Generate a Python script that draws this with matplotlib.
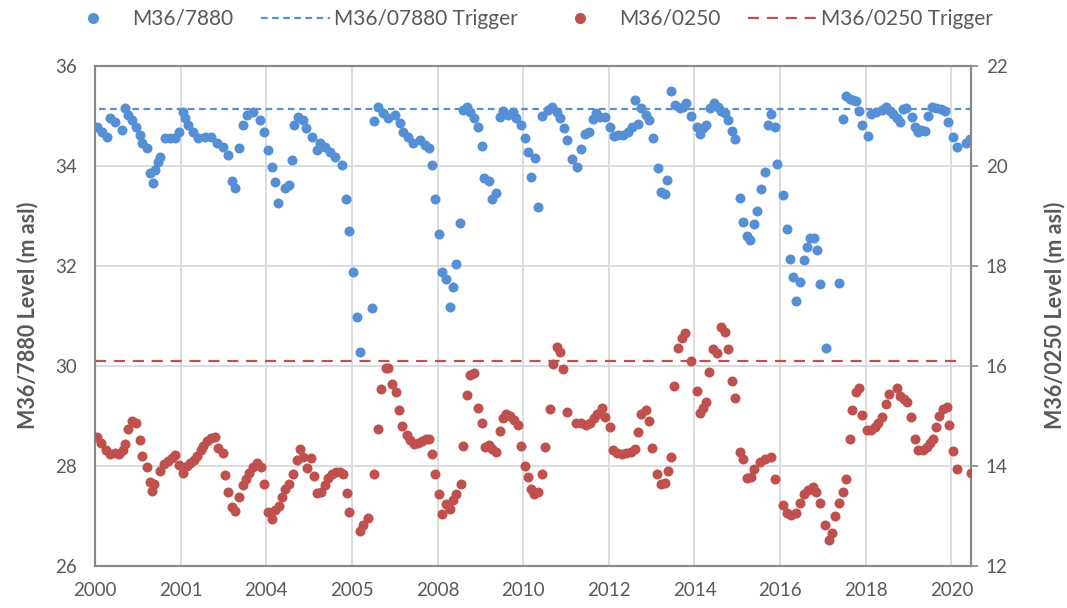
import matplotlib
matplotlib.use("Agg")
import matplotlib.pyplot as plt
from matplotlib.lines import Line2D

plt.rcParams['font.family'] = ['Lato', 'DejaVu Sans']

# M36/7880 water level (m asl), left axis
blue_x = [2000.04, 2000.16, 2000.27, 2000.35, 2000.47, 2000.62, 2000.70, 2000.78, 2000.86, 2000.96,
          2001.05, 2001.11, 2001.21, 2001.28, 2001.36, 2001.40, 2001.48, 2001.53, 2001.63, 2001.75,
          2001.87, 2001.97, 2002.05, 2002.10, 2002.18, 2002.30, 2002.41, 2002.57, 2002.72, 2002.84,
          2002.98, 2003.10, 2003.19, 2003.27, 2003.36, 2003.45, 2003.54, 2003.70, 2003.85, 2003.95,
          2004.05, 2004.13, 2004.20, 2004.28, 2004.44, 2004.53, 2004.61, 2004.65, 2004.75, 2004.86,
          2004.94, 2005.06, 2005.18, 2005.25, 2005.37, 2005.49, 2005.60, 2005.76, 2005.86, 2005.94,
          2006.03, 2006.11, 2006.20, 2006.46, 2006.51, 2006.61, 2006.73, 2006.85, 2007.00, 2007.12,
          2007.20, 2007.32, 2007.43, 2007.59, 2007.70, 2007.80, 2007.88, 2007.94, 2008.03, 2008.11,
          2008.19, 2008.29, 2008.35, 2008.44, 2008.53, 2008.60, 2008.68, 2008.75, 2008.86, 2008.95,
          2009.04, 2009.09, 2009.20, 2009.28, 2009.36, 2009.46, 2009.53, 2009.65, 2009.77, 2009.84,
          2009.95, 2010.05, 2010.12, 2010.19, 2010.27, 2010.34, 2010.44, 2010.57, 2010.68, 2010.78,
          2010.86, 2010.95, 2011.03, 2011.13, 2011.26, 2011.35, 2011.44, 2011.53, 2011.63, 2011.70,
          2011.79, 2011.91, 2012.02, 2012.12, 2012.22, 2012.33, 2012.45, 2012.54, 2012.67, 2012.61,
          2012.76, 2012.86, 2012.93, 2013.04, 2013.14, 2013.21, 2013.31, 2013.37, 2013.45, 2013.54,
          2013.66, 2013.74, 2013.80, 2013.93, 2014.05, 2014.13, 2014.19, 2014.28, 2014.37, 2014.45,
          2014.55, 2014.63, 2014.72, 2014.79, 2014.87, 2014.94, 2015.07, 2015.14, 2015.23, 2015.30,
          2015.39, 2015.46, 2015.56, 2015.64, 2015.71, 2015.78, 2015.88, 2015.93, 2016.07, 2016.16,
          2016.23, 2016.30, 2016.38, 2016.46, 2016.55, 2016.63, 2016.71, 2016.80, 2016.86, 2016.94,
          2017.07, 2017.38, 2017.46, 2017.55, 2017.63, 2017.70, 2017.78, 2017.85, 2017.92, 2018.06,
          2018.13, 2018.25, 2018.37, 2018.47, 2018.56, 2018.64, 2018.72, 2018.80, 2018.86, 2018.95,
          2019.07, 2019.15, 2019.22, 2019.30, 2019.39, 2019.46, 2019.55, 2019.65, 2019.75, 2019.85,
          2019.93, 2020.04, 2020.12, 2020.34, 2020.43]
blue_y = [34.78, 34.68, 34.58, 34.95, 34.88, 34.71, 35.15, 35.01, 34.91, 34.78,
          34.61, 34.45, 34.35, 33.85, 33.65, 33.91, 34.08, 34.18, 34.55, 34.55,
          34.56, 34.67, 35.08, 34.95, 34.81, 34.68, 34.55, 34.58, 34.58, 34.45,
          34.38, 34.21, 33.69, 33.55, 34.36, 34.81, 35.01, 35.08, 34.91, 34.67,
          34.31, 33.98, 33.67, 33.26, 33.55, 33.61, 34.11, 34.81, 34.98, 34.91,
          34.75, 34.58, 34.31, 34.45, 34.38, 34.28, 34.18, 34.01, 33.33, 32.70,
          31.87, 30.98, 30.27, 31.15, 34.89, 35.18, 35.05, 34.95, 35.01, 34.85,
          34.68, 34.58, 34.45, 34.51, 34.41, 34.36, 34.01, 33.33, 32.63, 31.88,
          31.73, 31.18, 31.57, 32.03, 32.86, 35.11, 35.18, 35.07, 34.96, 34.77,
          34.39, 33.76, 33.69, 33.33, 33.46, 34.98, 35.09, 35.01, 35.07, 34.95,
          34.81, 34.56, 34.28, 33.78, 34.15, 33.17, 35.00, 35.11, 35.18, 35.08,
          34.95, 34.76, 34.51, 34.13, 33.97, 34.33, 34.63, 34.67, 34.93, 35.05,
          34.98, 34.98, 34.78, 34.60, 34.61, 34.61, 34.68, 34.77, 34.83, 35.31,
          35.15, 35.01, 34.91, 34.55, 33.96, 33.47, 33.43, 33.71, 35.50, 35.21,
          35.15, 35.18, 35.25, 35.00, 34.78, 34.63, 34.76, 34.81, 35.15, 35.25,
          35.18, 35.09, 35.06, 34.91, 34.69, 34.53, 33.35, 32.88, 32.59, 32.51,
          32.83, 33.10, 33.53, 33.88, 34.81, 35.03, 34.78, 34.03, 33.41, 32.73,
          32.13, 31.78, 31.30, 31.68, 32.11, 32.37, 32.55, 32.56, 32.31, 31.63,
          30.36, 31.66, 34.93, 35.40, 35.33, 35.31, 35.29, 35.09, 34.81, 34.59,
          35.03, 35.08, 35.11, 35.18, 35.09, 35.03, 34.96, 34.87, 35.13, 35.16,
          34.97, 34.78, 34.67, 34.71, 34.69, 35.00, 35.18, 35.15, 35.13, 35.09,
          34.88, 34.58, 34.38, 34.45, 34.53]

# M36/0250 water level (m asl), right axis
red_x = [2000.04, 2000.13, 2000.26, 2000.35, 2000.47, 2000.57, 2000.65, 2000.70, 2000.76, 2000.86,
         2000.96, 2001.05, 2001.11, 2001.21, 2001.28, 2001.33, 2001.38, 2001.53, 2001.61, 2001.71,
         2001.79, 2001.87, 2001.97, 2002.06, 2002.14, 2002.22, 2002.31, 2002.39, 2002.47, 2002.53,
         2002.61, 2002.70, 2002.80, 2002.88, 2002.98, 2003.04, 2003.11, 2003.19, 2003.27, 2003.36,
         2003.45, 2003.53, 2003.60, 2003.70, 2003.78, 2003.87, 2003.95, 2004.05, 2004.13, 2004.20,
         2004.29, 2004.36, 2004.44, 2004.53, 2004.63, 2004.71, 2004.79, 2004.86, 2004.96, 2005.04,
         2005.11, 2005.19, 2005.29, 2005.37, 2005.45, 2005.53, 2005.63, 2005.72, 2005.80, 2005.88,
         2005.94, 2006.19, 2006.26, 2006.37, 2006.51, 2006.61, 2006.69, 2006.79, 2006.85, 2006.93,
         2007.03, 2007.11, 2007.18, 2007.28, 2007.35, 2007.46, 2007.55, 2007.64, 2007.72, 2007.80,
         2007.86, 2007.94, 2008.03, 2008.11, 2008.19, 2008.29, 2008.37, 2008.44, 2008.54, 2008.60,
         2008.69, 2008.75, 2008.85, 2008.95, 2009.04, 2009.11, 2009.20, 2009.28, 2009.36, 2009.46,
         2009.53, 2009.61, 2009.70, 2009.79, 2009.87, 2009.95, 2010.05, 2010.12, 2010.18, 2010.26,
         2010.35, 2010.44, 2010.52, 2010.62, 2010.70, 2010.78, 2010.87, 2010.93, 2011.03, 2011.24,
         2011.36, 2011.46, 2011.56, 2011.65, 2011.73, 2011.85, 2011.92, 2012.02, 2012.10, 2012.20,
         2012.31, 2012.41, 2012.51, 2012.61, 2012.68, 2012.76, 2012.86, 2012.93, 2013.02, 2013.12,
         2013.21, 2013.31, 2013.39, 2013.45, 2013.53, 2013.62, 2013.70, 2013.78, 2013.93, 2014.05,
         2014.14, 2014.20, 2014.28, 2014.35, 2014.43, 2014.52, 2014.63, 2014.71, 2014.79, 2014.87,
         2014.94, 2015.07, 2015.14, 2015.23, 2015.31, 2015.39, 2015.53, 2015.64, 2015.78, 2015.87,
         2016.07, 2016.16, 2016.26, 2016.38, 2016.46, 2016.55, 2016.66, 2016.77, 2016.85, 2016.93,
         2017.06, 2017.14, 2017.22, 2017.29, 2017.37, 2017.46, 2017.55, 2017.63, 2017.69, 2017.78,
         2017.85, 2017.92, 2018.03, 2018.13, 2018.22, 2018.29, 2018.37, 2018.47, 2018.55, 2018.72,
         2018.80, 2018.89, 2018.97, 2019.05, 2019.15, 2019.22, 2019.33, 2019.42, 2019.51, 2019.57,
         2019.64, 2019.71, 2019.81, 2019.89, 2019.94, 2020.04, 2020.12, 2020.45]
red_y = [14.57, 14.46, 14.31, 14.23, 14.25, 14.23, 14.31, 14.43, 14.73, 14.89,
         14.86, 14.51, 14.20, 13.98, 13.67, 13.50, 13.63, 13.89, 14.03, 14.10,
         14.15, 14.21, 14.01, 13.85, 14.00, 14.05, 14.11, 14.20, 14.31, 14.39,
         14.49, 14.56, 14.57, 14.35, 14.25, 13.81, 13.47, 13.18, 13.09, 13.38,
         13.61, 13.73, 13.85, 13.97, 14.05, 13.97, 13.63, 13.07, 12.93, 13.11,
         13.20, 13.38, 13.53, 13.63, 13.83, 14.11, 14.33, 14.18, 13.95, 14.16,
         13.79, 13.46, 13.48, 13.61, 13.75, 13.83, 13.88, 13.88, 13.83, 13.45,
         13.08, 12.69, 12.81, 12.95, 13.83, 14.73, 15.53, 15.96, 15.95, 15.63,
         15.48, 15.11, 14.79, 14.61, 14.51, 14.43, 14.45, 14.49, 14.53, 14.53,
         14.23, 13.83, 13.43, 13.03, 13.23, 13.13, 13.31, 13.43, 13.63, 14.40,
         15.41, 15.81, 15.85, 15.15, 14.85, 14.38, 14.41, 14.33, 14.27, 14.70,
         14.95, 15.03, 14.99, 14.91, 14.81, 14.40, 14.00, 13.78, 13.53, 13.43,
         13.47, 13.83, 14.38, 15.13, 16.03, 16.37, 16.28, 15.93, 15.08, 14.85,
         14.85, 14.81, 14.85, 14.95, 15.03, 15.16, 14.97, 14.78, 14.31, 14.25,
         14.23, 14.25, 14.28, 14.33, 14.68, 15.03, 15.11, 14.89, 14.36, 13.83,
         13.63, 13.66, 13.89, 14.17, 15.60, 16.35, 16.55, 16.66, 16.09, 15.50,
         15.05, 15.15, 15.28, 15.88, 16.33, 16.25, 16.77, 16.68, 16.33, 15.70,
         15.35, 14.28, 14.13, 13.75, 13.78, 13.93, 14.08, 14.13, 14.18, 13.73,
         13.21, 13.05, 13.01, 13.05, 13.26, 13.43, 13.51, 13.57, 13.48, 13.25,
         12.81, 12.51, 12.66, 13.00, 13.26, 13.48, 13.73, 14.53, 15.11, 15.48,
         15.55, 15.01, 14.71, 14.71, 14.78, 14.85, 14.97, 15.23, 15.43, 15.55,
         15.39, 15.33, 15.28, 14.98, 14.53, 14.31, 14.31, 14.38, 14.46, 14.53,
         14.77, 15.00, 15.13, 15.18, 14.81, 14.29, 13.93, 13.86]

# trigger levels
trigger_7880_x = [2000.1, 2020.45]
trigger_7880_y = [35.13, 35.13]
trigger_0250_x = [2000.0, 2020.15]
trigger_0250_y = [16.1, 16.1]

year_ticks = [2000, 2002, 2004, 2006, 2008, 2010, 2012, 2014, 2016, 2018, 2020]
year_labels = ['2000', '2001', '2004', '2005', '2008', '2010', '2012', '2014', '2016', '2018', '2020']

blue = '#5590D6'
red = '#C0504D'
grey_text = '#595959'
axis_grey = '#898989'
grid_grey = '#D9D9D9'

fig = plt.figure(figsize=(10.67, 6.08), dpi=100)
ax = fig.add_axes([0.089, 0.0696, 0.8207, 0.8224])
ax2 = ax.twinx()

ax.scatter(blue_x, blue_y, s=52, color=blue, zorder=3, linewidths=0)
ax.plot(trigger_7880_x, trigger_7880_y, color=blue, lw=1.6, dashes=(3, 2), zorder=2)
ax2.scatter(red_x, red_y, s=52, color=red, zorder=3, linewidths=0)
ax2.plot(trigger_0250_x, trigger_0250_y, color=red, lw=1.6, dashes=(5, 3.5), zorder=2)

ax.set_xlim(2000, 2020.45)
ax.set_ylim(26, 36)
ax2.set_ylim(12, 22)
ax.set_xticks(year_ticks)
ax.set_xticklabels(year_labels)
ax.set_yticks([26, 28, 30, 32, 34, 36])
ax2.set_yticks([12, 14, 16, 18, 20, 22])

ax.grid(True, color=grid_grey, lw=1.3)
ax.set_axisbelow(True)

for a in (ax, ax2):
    for side in ('left', 'right', 'top', 'bottom'):
        a.spines[side].set_color(axis_grey)
        a.spines[side].set_linewidth(1.5)
ax.tick_params(axis='y', length=0, labelsize=13.5, labelcolor=grey_text, pad=13)
ax.tick_params(axis='x', length=0, labelsize=13.5, labelcolor=grey_text, pad=12)
ax2.tick_params(axis='y', length=5, width=1.2, color=axis_grey, labelsize=13.5,
                labelcolor=grey_text, pad=6)

ax.set_ylabel('M36/7880 Level (m asl)', fontsize=15.5, fontweight='bold', color=grey_text, labelpad=12)
ax2.set_ylabel('M36/0250 Level (m asl)', fontsize=15.5, fontweight='bold', color=grey_text, labelpad=26)

handles = [
    Line2D([], [], ls='none', marker='o', ms=7, color=blue),
    Line2D([], [], color=blue, lw=1.6, dashes=(3, 2)),
    Line2D([], [], ls='none', marker='o', ms=7, color=red),
    Line2D([], [], color=red, lw=1.6, dashes=(5, 3.5)),
]
labels = ['M36/7880', 'M36/07880 Trigger', 'M36/0250', 'M36/0250 Trigger']
fig.legend(handles, labels, loc='center', bbox_to_anchor=(0.493, 0.969), ncol=4,
           frameon=False, fontsize=15, labelcolor=grey_text, handlelength=3.3,
           handletextpad=0.2, columnspacing=1.35)

fig.savefig('out.png', dpi=100)
